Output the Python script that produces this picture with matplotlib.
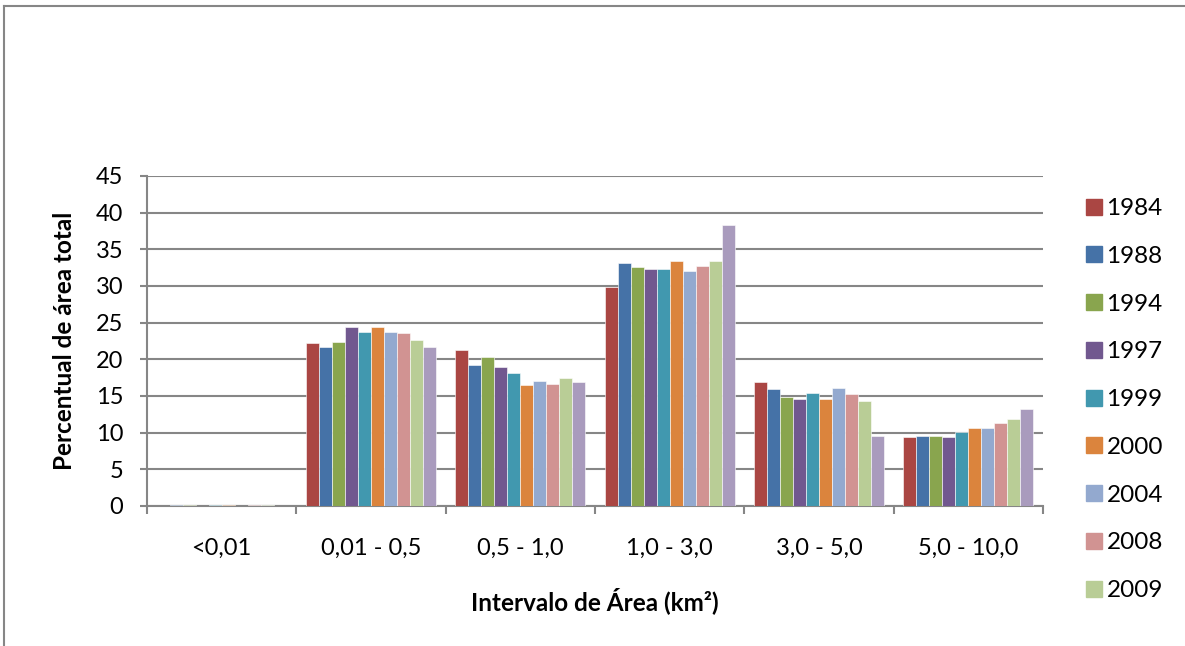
import matplotlib
matplotlib.use("Agg")
import matplotlib.pyplot as plt
import numpy as np
from matplotlib.lines import Line2D

categories = ["<0,01", "0,01 - 0,5", "0,5 - 1,0", "1,0 - 3,0", "3,0 - 5,0", "5,0 - 10,0"]
years = ["1984", "1988", "1994", "1997", "1999", "2000", "2004", "2008", "2009", "2010"]
v1984 = [0.05, 22.25, 21.3, 29.9, 16.9, 9.4]
v1988 = [0.10, 21.7, 19.2, 33.2, 15.95, 9.5]
v1994 = [0.10, 22.35, 20.3, 32.6, 14.8, 9.5]
v1997 = [0.05, 24.4, 19.0, 32.3, 14.55, 9.4]
v1999 = [0.10, 23.7, 18.1, 32.35, 15.35, 10.05]
v2000 = [0.12, 24.4, 16.5, 33.35, 14.65, 10.65]
v2004 = [0.05, 23.7, 17.1, 32.0, 16.1, 10.65]
v2008 = [0.08, 23.55, 16.65, 32.75, 15.25, 11.35]
v2009 = [0.08, 22.6, 17.4, 33.4, 14.3, 11.9]
v2010 = [0.03, 21.7, 16.85, 38.3, 9.5, 13.25]
series = [v1984, v1988, v1994, v1997, v1999, v2000, v2004, v2008, v2009, v2010]
colors = ["#AA4643", "#4572A7", "#89A54E", "#71588F", "#4198AF",
          "#DB843D", "#93A9CF", "#D19392", "#B9CD96", "#A99BBD"]
legend_years = years[:9]

plt.rcParams['font.family'] = ['Lato', 'DejaVu Sans']
W, H = 1185, 646
fig = plt.figure(figsize=(W/100, H/100), dpi=100)
ax = fig.add_axes([147/W, 1-506/H, (1043-147)/W, (506-176)/H])

gridc = "#868686"
n = len(series)
bw = 0.0872
x = np.arange(len(categories))
for i, (vals, c) in enumerate(zip(series, colors)):
    offs = (i - (n-1)/2) * bw
    ax.bar(x + offs, vals, width=bw, color=c, edgecolor="white", linewidth=0.4, zorder=3)

ax.set_xlim(-0.5, len(categories)-0.5)
ax.set_ylim(0, 45)
ax.set_yticks(np.arange(0, 46, 5))
ax.yaxis.grid(True, color=gridc, linewidth=1.5, zorder=0)
ax.set_axisbelow(True)
for s in ["top", "right"]:
    ax.spines[s].set_visible(False)
for s in ["left", "bottom"]:
    ax.spines[s].set_color(gridc)
    ax.spines[s].set_linewidth(1.5)
ax.set_xticks(np.arange(-0.5, len(categories), 1.0))
ax.set_xticklabels([])
ax.set_xticks(x, minor=True)
ax.set_xticklabels(categories, minor=True, fontsize=17)
ax.tick_params(axis='x', which='major', direction='out', length=6, width=1.5, color=gridc)
ax.tick_params(axis='x', which='minor', length=0, pad=23)
ax.tick_params(axis='y', direction='out', length=5, width=1.5, color=gridc, labelsize=17, pad=12)

ax.set_xlabel("Intervalo de Área (km²)", fontsize=17.5, fontweight='bold', labelpad=20)
ax.set_ylabel("Percentual de área total", fontsize=17.5, fontweight='bold', labelpad=14)

handles = [Line2D([0], [0], marker='s', linestyle='none', markersize=11,
                  markerfacecolor=colors[i], markeredgecolor=colors[i]) for i in range(9)]
fig.legend(handles, legend_years, loc='upper left', bbox_to_anchor=(1072/W, 1-186/H),
           frameon=False, fontsize=17.5, labelspacing=1.1, handlelength=0.8,
           handletextpad=0.12, borderpad=0)

fig.add_artist(Line2D([4/W, 4/W], [0, 1-6/H], color=gridc, linewidth=1.5))
fig.add_artist(Line2D([4/W, 1], [1-6/H, 1-6/H], color=gridc, linewidth=1.5))

fig.savefig("out.png", dpi=100)
